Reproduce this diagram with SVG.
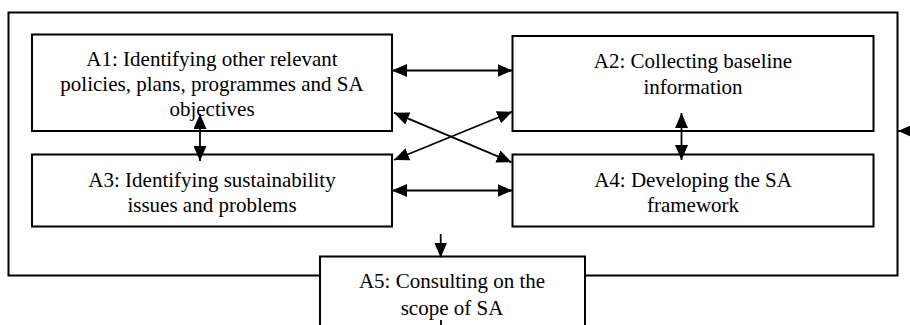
<svg xmlns="http://www.w3.org/2000/svg" width="910" height="325" viewBox="0 0 910 325">
<defs>
<marker id="ah" markerUnits="userSpaceOnUse" markerWidth="15" markerHeight="13" refX="15" refY="6.5" orient="auto-start-reverse">
<path d="M0,0 L15,6.5 L0,13 z" fill="#000"/>
</marker>
<style>
.box{fill:#fff;stroke:#000;stroke-width:2}
.frame{fill:none;stroke:#000;stroke-width:2}
.lbl{font-size:21px;fill:#000;text-anchor:middle}
.c{stroke:#000;stroke-width:1.8;fill:none}
.both{marker-start:url(#ah);marker-end:url(#ah)}
.end{marker-end:url(#ah)}
</style>
</defs>
<rect width="910" height="325" fill="#fff"/>
<rect id="frame" class="frame" x="8.5" y="12.5" width="889" height="263"/>
<g font-family="Liberation Serif, Times New Roman, serif">
<g id="A1">
<rect class="box" x="32" y="34.5" width="360" height="96.5"/>
<text class="lbl" font-family="Liberation Serif, serif"><tspan x="212" y="66">A1: Identifying other relevant</tspan><tspan x="212" y="91">policies, plans, programmes and SA</tspan><tspan x="212" y="116">objectives</tspan></text>
</g>
<g id="A2">
<rect class="box" x="512.5" y="36" width="361" height="95"/>
<text class="lbl" font-family="Liberation Serif, serif"><tspan x="693" y="68">A2: Collecting baseline</tspan><tspan x="693" y="94">information</tspan></text>
</g>
<g id="A3">
<rect class="box" x="32" y="154.5" width="360" height="72"/>
<text class="lbl" font-family="Liberation Serif, serif"><tspan x="212" y="187">A3: Identifying sustainability</tspan><tspan x="212" y="212">issues and problems</tspan></text>
</g>
<g id="A4">
<rect class="box" x="512.5" y="154.5" width="361" height="72"/>
<text class="lbl" font-family="Liberation Serif, serif"><tspan x="693" y="187">A4: Developing the SA</tspan><tspan x="693" y="212">framework</tspan></text>
</g>
<g id="A5">
<rect class="box" x="320" y="256.5" width="265" height="80"/>
<text class="lbl" font-family="Liberation Serif, serif"><tspan x="452" y="288">A5: Consulting on the</tspan><tspan x="452" y="315">scope of SA</tspan></text>
</g>
</g>
<g id="connectors">
<line class="c both" x1="392" y1="70.5" x2="512.5" y2="70.5"/>
<line class="c both" x1="392" y1="190.5" x2="512.5" y2="190.5"/>
<line class="c both" x1="200" y1="114" x2="200" y2="161"/>
<line class="c both" x1="681.5" y1="113" x2="681.5" y2="160"/>
<line class="c both" x1="394" y1="112.7" x2="511.7" y2="162.3"/>
<line class="c both" x1="512.3" y1="111.7" x2="394" y2="160"/>
<line class="c end" x1="930" y1="131" x2="898" y2="131"/>
<line class="c end" x1="440.7" y1="234" x2="440.7" y2="257.5"/>
<line class="c" x1="441" y1="320" x2="441" y2="330"/>
</g>
</svg>
